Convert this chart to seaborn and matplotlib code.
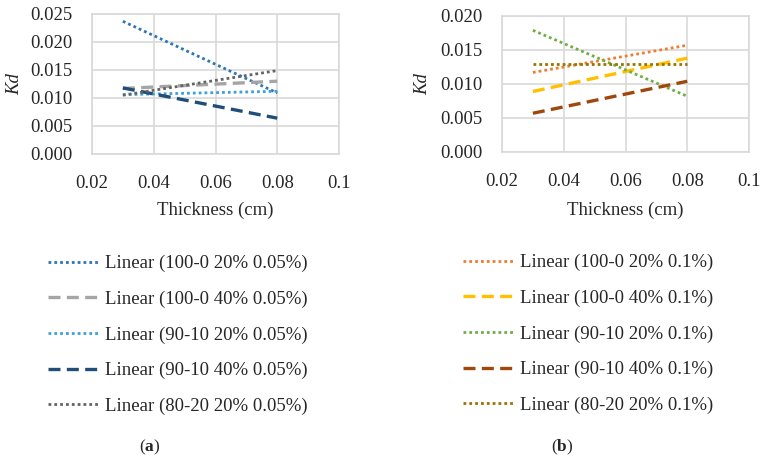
import numpy as np
import pandas as pd
import matplotlib
matplotlib.use("Agg")
import matplotlib.pyplot as plt
import seaborn as sns

# Dados: linhas de tendência (início e fim)
thickness = [0.03, 0.08]

labels_a = ["Linear (100-0 20% 0.05%)", "Linear (100-0 40% 0.05%)",
            "Linear (90-10 20% 0.05%)", "Linear (90-10 40% 0.05%)",
            "Linear (80-20 20% 0.05%)"]
kd_a_100_0_20 = [0.0237, 0.0109]
kd_a_100_0_40 = [0.0117, 0.0130]
kd_a_90_10_20 = [0.0106, 0.0112]
kd_a_90_10_40 = [0.0118, 0.0064]
kd_a_80_20_20 = [0.0105, 0.0149]

labels_b = ["Linear (100-0 20% 0.1%)", "Linear (100-0 40% 0.1%)",
            "Linear (90-10 20% 0.1%)", "Linear (90-10 40% 0.1%)",
            "Linear (80-20 20% 0.1%)"]
kd_b_100_0_20 = [0.0117, 0.0157]
kd_b_100_0_40 = [0.0089, 0.0138]
kd_b_90_10_20 = [0.0179, 0.0082]
kd_b_90_10_40 = [0.0057, 0.0104]
kd_b_80_20_20 = [0.0129, 0.0129]

xticks = [0.02, 0.04, 0.06, 0.08, 0.1]
xticklabels = ["0.02", "0.04", "0.06", "0.08", "0.1"]

colors_a = ["#2E75B6", "#A5A5A5", "#3FA0D8", "#1F4E79", "#636363"]
colors_b = ["#ED7D31", "#FFC000", "#70AD47", "#9E480E", "#997300"]
dotted = (0, (1, 1.1))
dashed = (0, (3.6, 1.9))
styles = [dotted, dashed, dotted, dashed, dotted]

sns.set_style("white")
plt.rcParams["font.family"] = ["Liberation Serif", "DejaVu Serif"]
plt.rcParams["mathtext.fontset"] = "custom"
plt.rcParams["mathtext.bf"] = "Liberation Serif:bold"
plt.rcParams["mathtext.rm"] = "Liberation Serif"

fs = 13.5
fig = plt.figure(figsize=(7.63, 4.57), dpi=100)
W, H = 763, 457


def add_ax(x0, x1, y0, y1):
    return fig.add_axes([x0 / W, 1 - y1 / H, (x1 - x0) / W, (y1 - y0) / H])


def panel(ax, series, labels, colors, ymax, yticks):
    for vals, lab, col, ls in zip(series, labels, colors, styles):
        lw = 2.0 if ls == dotted else 2.4
        sns.lineplot(x=thickness, y=vals, ax=ax, color=col, label=lab,
                     linewidth=lw, legend=False)
        ax.lines[-1].set_linestyle(ls)
    ax.set_xlim(0.02, 0.1)
    ax.set_ylim(0, ymax)
    ax.set_xticks(xticks)
    ax.set_xticklabels(xticklabels)
    ax.set_yticks(yticks)
    ax.set_yticklabels([f"{v:.3f}" for v in yticks])
    ax.grid(True, color="#D9D9D9", linewidth=1.2)
    for s in ax.spines.values():
        s.set_color("#D9D9D9")
        s.set_linewidth(1.2)
    ax.tick_params(axis="both", length=0, labelsize=fs)
    ax.tick_params(axis="y", pad=14)
    ax.tick_params(axis="x", pad=15)
    ax.set_xlabel("Thickness (cm)", fontsize=fs)
    ax.set_ylabel("Kd", fontsize=fs, fontstyle="italic")


ax1 = add_ax(92, 339, 14, 154)
panel(ax1, [kd_a_100_0_20, kd_a_100_0_40, kd_a_90_10_20, kd_a_90_10_40, kd_a_80_20_20],
      labels_a, colors_a, 0.025, [0, 0.005, 0.01, 0.015, 0.02, 0.025])

ax2 = add_ax(502, 749, 16, 152)
panel(ax2, [kd_b_100_0_20, kd_b_100_0_40, kd_b_90_10_20, kd_b_90_10_40, kd_b_80_20_20],
      labels_b, colors_b, 0.020, [0, 0.005, 0.01, 0.015, 0.02])

# posição dos rótulos dos eixos
ax1.yaxis.set_label_coords((15 - 92) / 247, 0.5)
ax2.yaxis.set_label_coords((423 - 502) / 247, 0.5)
ax1.xaxis.set_label_coords(0.5, -(210 - 154) / 140)
ax2.xaxis.set_label_coords(0.5, -(210 - 152) / 136)
for ax in (ax1, ax2):
    ax.xaxis.label.set_va("center")
    ax.yaxis.label.set_va("center")

# legendas abaixo dos gráficos
for ax, x0, y0 in [(ax1, 48, 255), (ax2, 463, 254)]:
    handles, labs = ax.get_legend_handles_labels()
    fig.legend(handles, labs, loc="upper left", bbox_to_anchor=(x0 / W, 1 - y0 / H),
               frameon=False, fontsize=fs, handlelength=2.75, handletextpad=0.3,
               labelspacing=0.98, borderpad=0, borderaxespad=0)

fig.text(150 / W, 1 - 447 / H, r"($\mathbf{a}$)", ha="center", va="center", fontsize=12.5)
fig.text(562 / W, 1 - 447 / H, r"($\mathbf{b}$)", ha="center", va="center", fontsize=12.5)

fig.savefig("out.png", dpi=100)
